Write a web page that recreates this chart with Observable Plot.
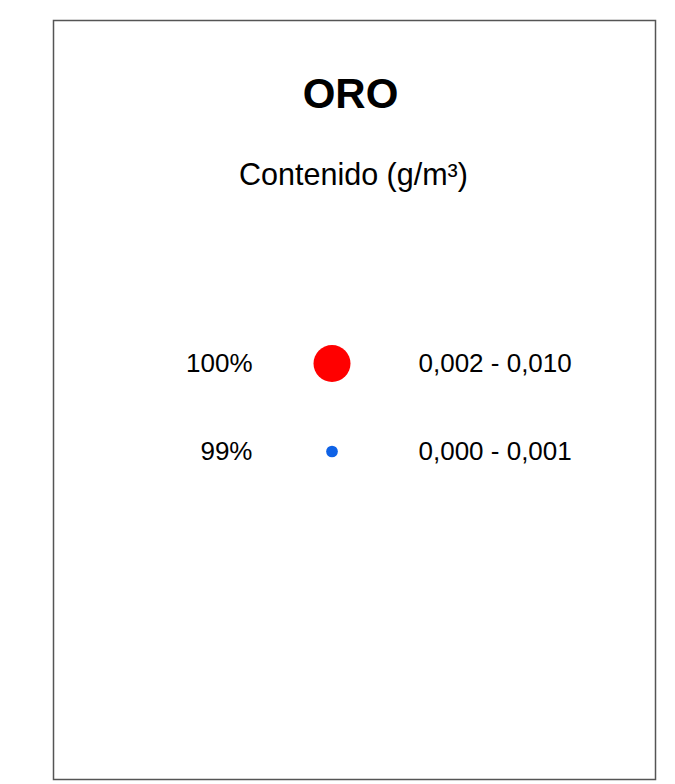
<!DOCTYPE html>
<html>
<head>
<meta charset="utf-8">
<script src="https://cdn.jsdelivr.net/npm/d3@7"></script>
<script src="https://cdn.jsdelivr.net/npm/@observablehq/plot@0.6"></script>
<style>
  html, body { margin: 0; padding: 0; background: #fff; }
</style>
</head>
<body>
<div id="chart"></div>
<script>
const title = "ORO";
const subtitle = "Contenido (g/m³)";
const percentages = ["100%", "99%"];
const ranges = ["0,002 - 0,010", "0,000 - 0,001"];
const upperBounds = [0.010, 0.001];
const colors = ["#ff0000", "#0f62e6"];

const rows = percentages.map((p, i) => ({
  pct: p, range: ranges[i], value: upperBounds[i], color: colors[i]
}));

const chart = Plot.plot({
  width: 675,
  height: 784,
  marginLeft: 53,
  marginRight: 20,
  marginTop: 20,
  marginBottom: 5,
  style: { fontFamily: "'Liberation Sans', Arial, sans-serif", background: "#fff", color: "#000" },
  x: { type: "point", domain: ["label", "marker", "range"], range: [251, 418], padding: 0, axis: null },
  y: { type: "point", domain: percentages, range: [363, 451], padding: 0, axis: null },
  r: { type: "sqrt", domain: [0, 0.010], range: [0, 18.5] },
  marks: [
    Plot.frame({ stroke: "#555", strokeWidth: 1.5 }),
    Plot.text([title], { frameAnchor: "top", lineAnchor: "middle", dy: 73.6, dx: -4, fontSize: 42, fontWeight: "bold", fill: "#000" }),
    Plot.text([subtitle], { frameAnchor: "top", lineAnchor: "middle", dy: 155, dx: -1, fontSize: 30.5, fill: "#000" }),
    Plot.text(rows, { x: () => "label", y: "pct", text: "pct", textAnchor: "end", fontSize: 26, fill: "#000" }),
    Plot.dot(rows, { x: () => "marker", y: "pct", dx: -3.5, r: "value", fill: "color", stroke: null }),
    Plot.text(rows, { x: () => "range", y: "pct", text: "range", textAnchor: "start", fontSize: 26, fill: "#000" })
  ]
});
document.getElementById("chart").appendChild(chart);
</script>
</body>
</html>
